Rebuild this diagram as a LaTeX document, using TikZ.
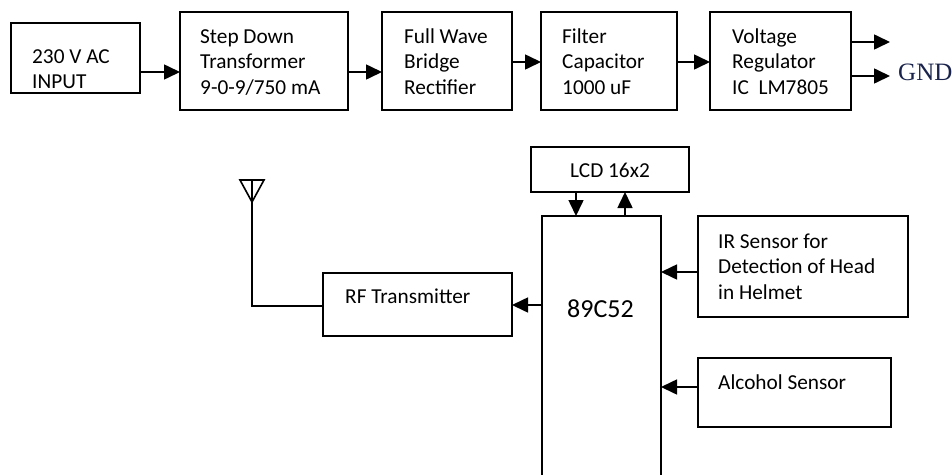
\documentclass[tikz,border=0pt]{standalone}
\usepackage{fontspec}
\setmainfont{Carlito}
\newfontfamily\gndfont{Liberation Serif}
\usetikzlibrary{arrows.meta}
\newcommand{\mlines}[1]{\begin{tabular}[t]{@{}l@{}}#1\end{tabular}}
\begin{document}
\begin{tikzpicture}[x=1pt,y=-1pt,
  box/.style={draw, line width=1.6pt, fill=white, inner sep=0pt, outer sep=0pt},
  txt/.style={inner sep=0pt, anchor=base west, font=\fontsize{21.3}{25.5}\selectfont},
  wire/.style={line width=1.6pt},
  arr/.style={line width=1.6pt, -{Triangle[length=16pt,width=15pt]}}]
\useasboundingbox[fill=white] (0,0) rectangle (952,474);
% boxes
\node[box, minimum width=129pt, minimum height=70pt] (b1) at (75.5,58) {};
\node[box, minimum width=168pt, minimum height=98pt] (b2) at (264,61) {};
\node[box, minimum width=130pt, minimum height=98pt] (b3) at (447,61) {};
\node[box, minimum width=136pt, minimum height=98pt] (b4) at (609,61) {};
\node[box, minimum width=141pt, minimum height=98pt] (b5) at (780.5,61) {};
\node[box, minimum width=158pt, minimum height=45pt] (lcd) at (610,169.5) {};
\node[box, minimum width=119pt, minimum height=274pt] (mcu) at (601.5,353) {};
\node[box, minimum width=210pt, minimum height=101pt] (ir) at (803,266.5) {};
\node[box, minimum width=193pt, minimum height=69pt] (alc) at (794.5,392.5) {};
\node[box, minimum width=189pt, minimum height=63pt] (rf) at (417.5,304.5) {};
% texts
\node[txt] (t1) at (32,63) {\mlines{230 V AC\\INPUT}};
\node[txt] (t2) at (200,43) {\mlines{Step Down\\Transformer\\9-0-9/750 mA}};
\node[txt] (t3) at (404,43) {\mlines{Full Wave\\Bridge\\Rectifier}};
\node[txt] (t4) at (562,43) {\mlines{Filter\\Capacitor\\1000 uF}};
\node[txt] (t5) at (732,43) {\mlines{Voltage\\Regulator\\IC~~LM7805}};
\node[txt, anchor=base] (tl) at (610,177) {LCD 16x2};
\node[txt, font=\fontsize{26}{30}\selectfont] (tm) at (567,317) {89C52};
\node[txt] (ti) at (718,248) {\mlines{IR Sensor for\\Detection of Head\\in Helmet}};
\node[txt] (ta) at (718,389) {Alcohol Sensor};
\node[txt] (tr) at (345,303) {RF Transmitter};
\node[inner sep=2pt, fill=white, anchor=base west, text={rgb,255:red,25;green,35;blue,75},
      font=\gndfont\fontsize{25}{28}\selectfont] (gnd) at (896,80) {GND};
% connectors
\draw[arr] (b1.east |- 0,72) -- (b2.west |- 0,72);
\draw[arr] (b2.east |- 0,72) -- (b3.west |- 0,72);
\draw[arr] (b3.east |- 0,62) -- (b4.west |- 0,62);
\draw[arr] (b4.east |- 0,62) -- (b5.west |- 0,62);
\coordinate (o1) at (890,42);
\coordinate (o2) at (890,76);
\draw[arr] (b5.east |- o1) -- (o1);
\draw[arr] (b5.east |- o2) -- (o2);
\draw[arr] (lcd.south -| 576,0) -- (mcu.north -| 576,0);
\draw[arr] (mcu.north -| 625,0) -- (lcd.south -| 625,0);
\draw[arr] (ir.west |- 0,272) -- (mcu.east |- 0,272);
\draw[arr] (alc.west |- 0,387) -- (mcu.east |- 0,387);
\draw[arr] (mcu.west |- 0,305) -- (rf.east |- 0,305);
% antenna
\coordinate (antb) at (252,202);
\coordinate (antt) at (252,180);
\draw[wire] (rf.west |- 0,306) -| (antb);
\draw[wire, line join=miter] (240,180) -- (264,180) -- (antb) -- cycle;
\draw[wire] (antt) -- (antb);
\end{tikzpicture}
\end{document}
